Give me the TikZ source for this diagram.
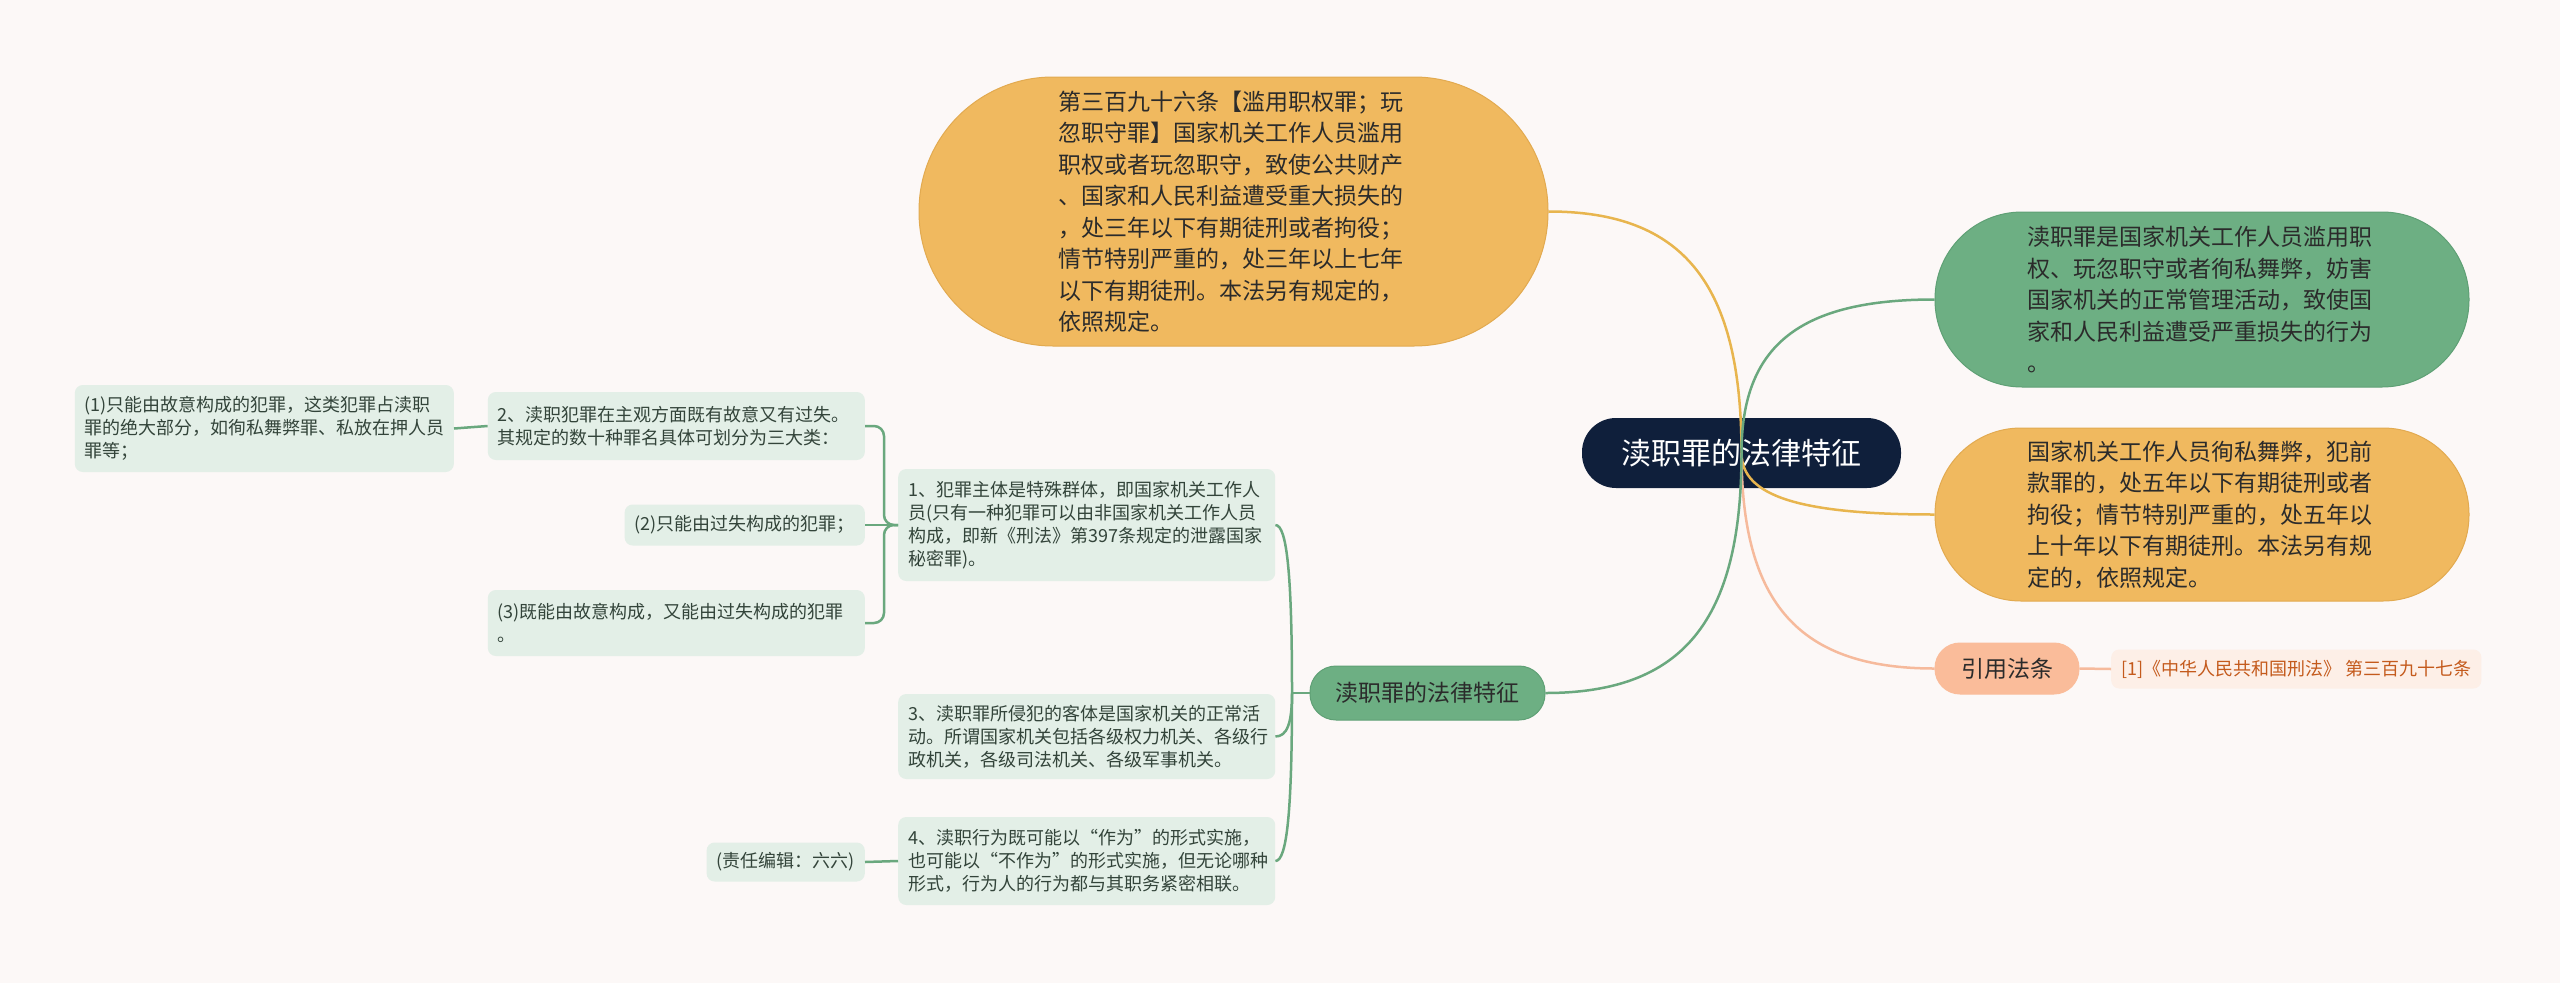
\documentclass[tikz,border=0pt]{standalone}
\usepackage{fontspec}
\setmainfont{Noto Sans CJK SC}
\usetikzlibrary{calc}
\definecolor{bgc}{HTML}{FCF8F7}
\definecolor{navy}{HTML}{0F1F3B}
\definecolor{orng}{HTML}{F0B95F}
\definecolor{orngD}{HTML}{E2AA50}
\definecolor{orngL}{HTML}{E8B54E}
\definecolor{grn}{HTML}{6DAF83}
\definecolor{grnD}{HTML}{5FA075}
\definecolor{grnL}{HTML}{6AA87E}
\definecolor{slmn}{HTML}{FABC9A}
\definecolor{slmnL}{HTML}{F6BA9C}
\definecolor{lgrn}{HTML}{E3EFE7}
\definecolor{citefill}{HTML}{FDEFE7}
\definecolor{citetext}{HTML}{C45A1C}
\definecolor{txt}{HTML}{2B2B2B}
\definecolor{stxt}{HTML}{33443A}
\begin{document}
\begin{tikzpicture}[x=1pt,y=-1pt,
  bignode/.style={text=txt, align=left, text width=350pt, inner sep=0pt,
    font=\fontsize{23}{31.5}\selectfont, line width=1pt},
  pill/.style={text=txt, inner sep=0pt, font=\fontsize{23}{28}\selectfont, line width=1pt},
  smallbox/.style={fill=lgrn, rounded corners=8pt, inner xsep=10pt, inner ysep=8pt,
    text=stxt, align=left, font=\fontsize{18}{23}\selectfont},
  oline/.style={draw=orngL, line width=2.5pt},
  gline/.style={draw=grnL, line width=2.5pt},
  sline/.style={draw=slmnL, line width=2.5pt}]
\fill[bgc] (0,0) rectangle (2560,983);
\useasboundingbox (0,0) rectangle (2560,983);

% root
\node[pill, fill=navy, text=white, minimum width=319pt, minimum height=70pt,
  rounded corners=34pt, font=\fontsize{30}{36}\selectfont] (root) at (1741.5,453) {渎职罪的法律特征};

% main branches
\node[bignode, fill=orng, draw=orngD, minimum width=629pt, minimum height=269pt,
  rounded corners=134pt] (top) at (1233.5,211.5)
  {第三百九十六条【滥用职权罪；玩\\忽职守罪】国家机关工作人员滥用\\职权或者玩忽职守，致使公共财产\\、国家和人民利益遭受重大损失的\\，处三年以下有期徒刑或者拘役；\\情节特别严重的，处三年以上七年\\以下有期徒刑。本法另有规定的，\\依照规定。};

\node[bignode, fill=grn, draw=grnD, minimum width=534pt, minimum height=175pt,
  rounded corners=87pt] (rg) at (2202,299.5)
  {渎职罪是国家机关工作人员滥用职\\权、玩忽职守或者徇私舞弊，妨害\\国家机关的正常管理活动，致使国\\家和人民利益遭受严重损失的行为\\。};

\node[bignode, fill=orng, draw=orngD, minimum width=534pt, minimum height=173pt,
  rounded corners=86pt] (ro) at (2202,514.5)
  {国家机关工作人员徇私舞弊，犯前\\款罪的，处五年以下有期徒刑或者\\拘役；情节特别严重的，处五年以\\上十年以下有期徒刑。本法另有规\\定的，依照规定。};

\node[pill, fill=slmn, draw=slmn, minimum width=144pt, minimum height=51pt,
  rounded corners=25pt] (cite) at (2007,668.5) {引用法条};

\node[fill=citefill, rounded corners=8pt, inner xsep=10pt, inner ysep=0pt,
  minimum height=39pt, text=citetext, font=\fontsize{18}{22}\selectfont,
  anchor=west] (leaf) at (2111,669) {[1]《中华人民共和国刑法》 第三百九十七条};

\node[pill, fill=grn, draw=grnD, minimum width=235pt, minimum height=54pt,
  rounded corners=26pt] (lb) at (1427.5,693) {渎职罪的法律特征};

% children of left branch
\node[smallbox, text width=357pt, minimum height=112pt, anchor=west] (n1) at (898,525)
  {1、犯罪主体是特殊群体，即国家机关工作人\\员(只有一种犯罪可以由非国家机关工作人员\\构成，即新《刑法》第397条规定的泄露国家\\秘密罪)。};
\node[smallbox, text width=357pt, minimum height=85pt, anchor=west] (n3) at (898,736.5)
  {3、渎职罪所侵犯的客体是国家机关的正常活\\动。所谓国家机关包括各级权力机关、各级行\\政机关，各级司法机关、各级军事机关。};
\node[smallbox, text width=357pt, minimum height=88pt, anchor=west] (n4) at (898,861)
  {4、渎职行为既可能以“作为”的形式实施，\\也可能以“不作为”的形式实施，但无论哪种\\形式，行为人的行为都与其职务紧密相联。};

% left column
\node[smallbox, text width=357pt, minimum height=68pt, anchor=east] (n2) at (865,426)
  {2、渎职犯罪在主观方面既有故意又有过失。\\其规定的数十种罪名具体可划分为三大类：};
\node[smallbox, text width=359pt, minimum height=87pt, anchor=east] (q1) at (454,428.5)
  {(1)只能由故意构成的犯罪，这类犯罪占渎职\\罪的绝大部分，如徇私舞弊罪、私放在押人员\\罪等；};
\node[smallbox, minimum height=41pt, anchor=east] (p2) at (865,525)
  {(2)只能由过失构成的犯罪；};
\node[smallbox, text width=357pt, minimum height=66pt, anchor=east] (p3) at (865,623)
  {(3)既能由故意构成，又能由过失构成的犯罪\\。};
\node[smallbox, minimum height=39pt, anchor=east] (ed) at (865,862)
  {(责任编辑：六六)};

% connectors from root
\coordinate (ct) at (root.center |- top.east);
\draw[oline] (root.center) .. controls ($(root.center)!0.7!(ct)$) and ($(top.east)!0.7!(ct)$) .. (top.east);
\coordinate (cg) at (root.center |- rg.west);
\draw[gline] (root.center) .. controls ($(root.center)!0.7!(cg)$) and ($(rg.west)!0.7!(cg)$) .. (rg.west);
\coordinate (co) at (root.center |- ro.west);
\draw[oline] (root.center) .. controls ($(root.center)!0.7!(co)$) and ($(ro.west)!0.7!(co)$) .. (ro.west);
\coordinate (cc) at (root.center |- cite.west);
\draw[sline] (root.center) .. controls ($(root.center)!0.7!(cc)$) and ($(cite.west)!0.7!(cc)$) .. (cite.west);
\coordinate (cl) at (root.center |- lb.east);
\draw[gline] (root.center) .. controls ($(root.center)!0.7!(cl)$) and ($(lb.east)!0.7!(cl)$) .. (lb.east);

\draw[sline] (cite.east) -- (leaf.west);

% left branch to its children
\coordinate (jl) at (1292,693);
\draw[gline] (lb.west) -- (jl);
\coordinate (k1) at (jl |- n1.east);
\draw[gline] (jl) .. controls ($(jl)!0.7!(k1)$) and ($(n1.east)!0.7!(k1)$) .. (n1.east);
\coordinate (k3) at (jl |- n3.east);
\draw[gline] (jl) .. controls ($(jl)!0.7!(k3)$) and ($(n3.east)!0.7!(k3)$) .. (n3.east);
\coordinate (k4) at (jl |- n4.east);
\draw[gline] (jl) .. controls ($(jl)!0.7!(k4)$) and ($(n4.east)!0.7!(k4)$) .. (n4.east);

% bracket left of n1
\coordinate (jb) at (884,525);
\draw[gline, rounded corners=10pt] (n1.west) -- (jb) |- (n2.east);
\draw[gline, rounded corners=10pt] (n1.west) -- (jb) |- (p3.east);
\draw[gline] (n1.west) -- (p2.east);

\draw[gline] (n2.west) -- (q1.east);
\draw[gline] (n4.west) -- (ed.east);
\end{tikzpicture}
\end{document}
